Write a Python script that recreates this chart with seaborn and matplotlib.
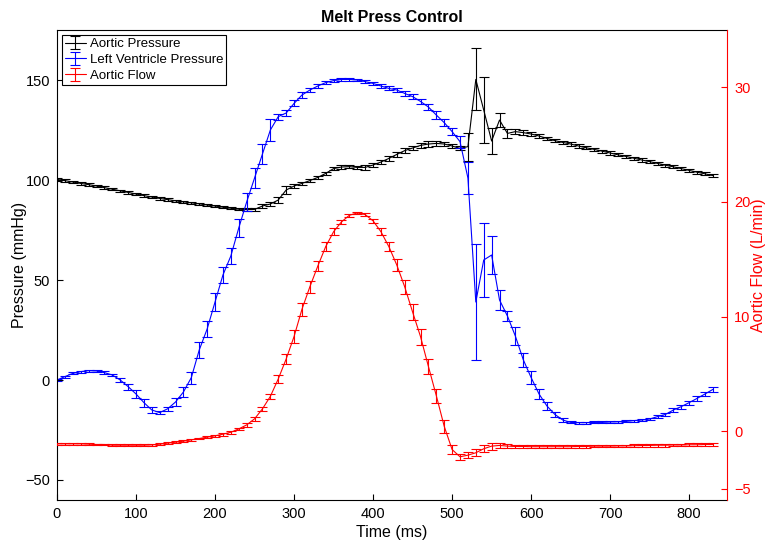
import matplotlib
matplotlib.use("Agg")
import matplotlib.pyplot as plt
from matplotlib.legend_handler import HandlerTuple
import seaborn as sns

# ---------------------------------------------------------------
# data (10 ms steps, 0..830 ms)
# ---------------------------------------------------------------
time_ms = list(range(0, 840, 10))

aortic_pressure = [
    100.3, 99.7, 99.0, 98.3, 97.7, 97.0, 96.2, 95.4, 94.6, 93.8,        # 0-90
    93.0, 92.2, 91.5, 90.8, 90.2, 89.6, 89.1, 88.6, 88.1, 87.5,         # 100-190
    87.0, 86.4, 85.9, 85.4, 85.2, 85.3, 87.0, 88.0, 90.0, 95.0,         # 200-290
    97.0, 98.3, 99.7, 101.3, 103.3, 105.7, 106.5, 106.7, 106.3, 106.3,  # 300-390
    107.5, 109.0, 110.8, 112.8, 114.7, 116.0, 117.3, 118.0, 118.3, 118.0,  # 400-490
    117.0, 115.8, 116.7, 150.3, 135.0, 119.5, 130.0, 123.3, 124.2, 123.7,  # 500-590
    123.0, 122.0, 120.8, 119.7, 118.8, 118.0, 117.0, 116.1, 115.3, 114.4,  # 600-690
    113.5, 112.6, 111.8, 110.9, 110.0, 109.2, 108.3, 107.4, 106.6, 105.7,  # 700-790
    104.8, 103.9, 103.1, 102.2,                                          # 800-830
]
aortic_pressure_err = [
    0.6, 0.6, 0.6, 0.6, 0.6, 0.6, 0.6, 0.6, 0.6, 0.6,
    0.6, 0.6, 0.6, 0.6, 0.6, 0.6, 0.6, 0.6, 0.6, 0.6,
    0.6, 0.6, 0.6, 0.6, 0.6, 0.6, 0.8, 1.2, 1.5, 1.8,
    1.0, 0.8, 0.8, 0.8, 0.8, 0.8, 0.8, 0.8, 0.8, 1.2,
    1.2, 1.2, 1.3, 1.3, 1.2, 1.2, 1.2, 1.3, 1.2, 1.0,
    1.0, 1.0, 7.0, 15.5, 16.5, 6.4, 3.3, 2.2, 1.2, 1.2,
    1.0, 0.8, 0.8, 0.8, 0.8, 0.8, 0.8, 0.8, 0.8, 0.8,
    0.8, 0.8, 0.8, 0.8, 0.8, 0.8, 0.8, 0.8, 0.8, 0.8,
    0.8, 0.8, 0.8, 0.8,
]

lv_pressure = [
    0.0, 1.7, 3.3, 4.2, 4.7, 4.5, 3.7, 2.5, 0.0, -3.3,                  # 0-90
    -7.0, -11.3, -15.0, -16.3, -14.4, -11.0, -6.0, 1.2, 15.0, 25.5,     # 100-190
    39.0, 52.5, 62.0, 76.0, 89.0, 101.0, 113.0, 125.0, 131.7, 133.5,    # 200-290
    138.3, 142.5, 145.0, 147.0, 148.7, 149.7, 150.3, 150.3, 150.0, 149.2,  # 300-390
    148.3, 147.0, 145.8, 145.0, 143.3, 141.7, 139.3, 136.5, 132.5, 128.7,  # 400-490
    124.2, 119.2, 101.0, 39.0, 60.0, 62.5, 40.0, 32.0, 22.0, 10.2,      # 500-590
    1.2, -7.0, -13.0, -17.2, -20.0, -21.2, -21.3, -21.3, -21.2, -21.2,  # 600-690
    -21.0, -20.9, -20.7, -20.3, -20.0, -19.5, -18.3, -17.2, -15.0, -13.3,  # 700-790
    -11.3, -9.2, -7.0, -4.7,                                             # 800-830
]
lv_pressure_err = [
    0.4, 0.5, 0.5, 0.5, 0.5, 0.6, 0.6, 0.7, 1.0, 1.5,
    1.8, 2.0, 1.5, 0.8, 1.0, 1.8, 2.5, 3.0, 4.0, 4.0,
    4.5, 4.0, 4.0, 4.5, 4.5, 5.0, 5.0, 5.5, 1.5, 1.5,
    1.5, 1.3, 1.2, 1.0, 0.8, 0.7, 0.6, 0.6, 0.7, 0.7,
    0.8, 0.9, 1.0, 1.0, 1.2, 1.2, 1.4, 1.6, 1.8, 1.6,
    1.8, 3.0, 8.0, 29.0, 18.5, 9.6, 5.0, 2.3, 4.7, 3.5,
    3.4, 2.6, 1.8, 1.4, 0.8, 0.5, 0.5, 0.5, 0.5, 0.5,
    0.5, 0.5, 0.5, 0.5, 0.5, 0.7, 0.8, 0.9, 1.0, 1.0,
    1.0, 1.1, 1.2, 1.3,
]

aortic_flow = [
    -1.10, -1.10, -1.10, -1.10, -1.13, -1.16, -1.16, -1.22, -1.22, -1.22,  # 0-90
    -1.22, -1.22, -1.19, -1.13, -1.04, -0.96, -0.87, -0.75, -0.64, -0.52,  # 100-190
    -0.40, -0.26, -0.09, 0.20, 0.55, 1.08, 1.95, 3.04, 4.56, 6.30,         # 200-290
    8.26, 10.64, 12.60, 14.40, 16.10, 17.40, 18.26, 18.84, 19.04, 18.90,   # 300-390
    18.35, 17.40, 16.10, 14.50, 12.60, 10.40, 8.26, 5.65, 3.10, 0.43,      # 400-490
    -1.60, -2.23, -2.09, -1.88, -1.53, -1.30, -1.24, -1.30, -1.33, -1.33,  # 500-590
    -1.35, -1.35, -1.35, -1.35, -1.35, -1.35, -1.33, -1.33, -1.30, -1.30,  # 600-690
    -1.30, -1.28, -1.28, -1.26, -1.25, -1.24, -1.22, -1.22, -1.20, -1.20,  # 700-790
    -1.18, -1.18, -1.16, -1.15,                                            # 800-830
]
aortic_flow_err = [
    0.08, 0.08, 0.08, 0.08, 0.08, 0.08, 0.08, 0.08, 0.08, 0.08,
    0.08, 0.08, 0.08, 0.08, 0.08, 0.08, 0.08, 0.08, 0.08, 0.08,
    0.10, 0.12, 0.12, 0.12, 0.15, 0.20, 0.20, 0.25, 0.35, 0.45,
    0.55, 0.55, 0.50, 0.45, 0.40, 0.30, 0.20, 0.15, 0.12, 0.15,
    0.20, 0.30, 0.40, 0.50, 0.60, 0.70, 0.70, 0.65, 0.60, 0.55,
    0.40, 0.25, 0.25, 0.30, 0.30, 0.30, 0.25, 0.20, 0.15, 0.15,
    0.12, 0.12, 0.12, 0.12, 0.12, 0.12, 0.12, 0.12, 0.12, 0.12,
    0.12, 0.12, 0.12, 0.12, 0.12, 0.12, 0.12, 0.12, 0.12, 0.12,
    0.12, 0.12, 0.12, 0.12,
]

# ---------------------------------------------------------------
# style
# ---------------------------------------------------------------
sns.set_theme(style="white")
plt.rcParams["font.family"] = ["Liberation Sans", "DejaVu Sans"]
plt.rcParams["axes.edgecolor"] = "black"
plt.rcParams["axes.linewidth"] = 0.8
plt.rcParams["text.color"] = "black"
plt.rcParams["axes.labelcolor"] = "black"


def draw_series(axis, y, err, color):
    sns.lineplot(x=time_ms, y=y, ax=axis, color=color, lw=0.8,
                 legend=False, estimator=None)
    line = axis.lines[-1]
    eb = axis.errorbar(time_ms, y, yerr=err, fmt="none", ecolor=color,
                       elinewidth=0.8, capsize=3.5, capthick=0.8)
    return (line, eb)


fig, ax = plt.subplots(figsize=(7.67, 5.41), dpi=100)
fig.subplots_adjust(left=0.0743, right=0.948, bottom=0.0758, top=0.9445)
ax2 = ax.twinx()

h_ao = draw_series(ax, aortic_pressure, aortic_pressure_err, "black")
h_lv = draw_series(ax, lv_pressure, lv_pressure_err, "#0000ff")
h_fl = draw_series(ax2, aortic_flow, aortic_flow_err, "#ff0000")

# left axis
ax.set_xlim(0, 848)
ax.set_ylim(-60, 175)
ax.set_xticks(range(0, 900, 100))
ax.set_yticks([-50, 0, 50, 100, 150])
ax.tick_params(axis="both", which="major", bottom=True, left=True,
               direction="in", length=4, width=0.8, labelsize=10.5,
               colors="black", pad=5)
ax.set_xlabel("Time (ms)", fontsize=11.5, color="black", labelpad=3)
ax.set_ylabel("Pressure (mmHg)", fontsize=11.5, color="black", labelpad=-1)
ax.set_title("Melt Press Control", fontsize=11.5, fontweight="bold",
             color="black", pad=6)
ax.spines["right"].set_visible(False)

# right axis
ax2.set_ylim(-6, 35)
ax2.set_yticks([-5, 0, 10, 20, 30])
ax2.tick_params(axis="y", right=True, direction="in", length=4, width=0.8,
                labelsize=10.5, colors="#ff0000", pad=5)
ax2.set_ylabel("Aortic Flow (L/min)", fontsize=11.5, color="#ff0000",
               labelpad=0)
ax2.spines["right"].set_color("#ff0000")
for side in ["left", "top", "bottom"]:
    ax2.spines[side].set_visible(False)
ax2.grid(False)
ax.grid(False)

leg = ax2.legend([h_ao, h_lv, h_fl],
                 ["Aortic Pressure", "Left Ventricle Pressure", "Aortic Flow"],
                 handler_map={tuple: HandlerTuple(ndivide=1)},
                 loc="upper left", fontsize=9.5, frameon=True, fancybox=False,
                 framealpha=1, edgecolor="black", borderpad=0.2,
                 labelspacing=0.28, handlelength=1.6, handletextpad=0.3,
                 borderaxespad=0.4)
leg.get_frame().set_linewidth(0.8)
for txt in leg.get_texts():
    txt.set_color("black")

fig.savefig("out.png", dpi=100)
